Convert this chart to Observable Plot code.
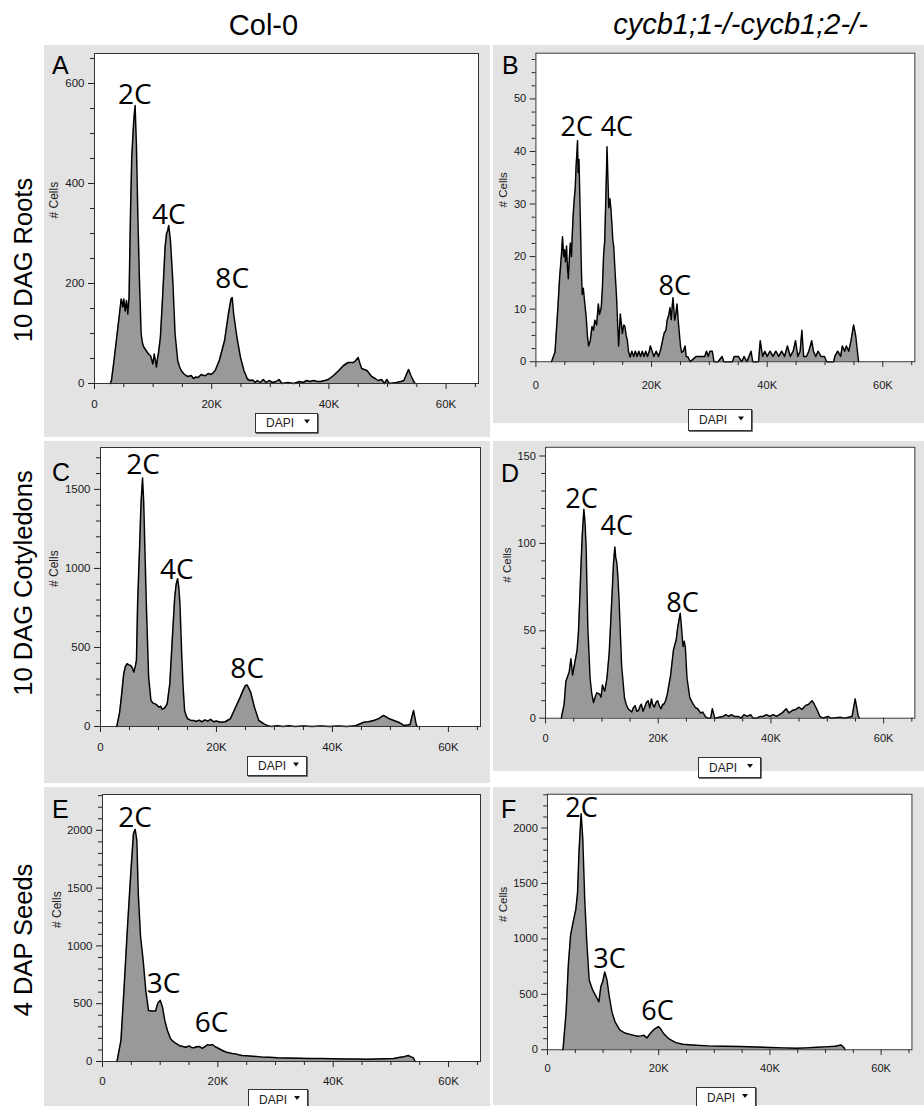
<!DOCTYPE html>
<html><head><meta charset="utf-8">
<script src="https://cdn.jsdelivr.net/npm/d3@7"></script>
<script src="https://cdn.jsdelivr.net/npm/@observablehq/plot@0.6"></script>
<style>
body{margin:0;background:#fff;}
#root{position:relative;width:924px;height:1106px;overflow:hidden;background:#fff;}
.panel{position:absolute;}
#overlay{position:absolute;left:0;top:0;z-index:5;pointer-events:none;}
</style></head><body><div id="root"></div>
<script>
// ---------- data (x in thousands of DAPI units, y = # cells) ----------
const xTickValues = [0, 20, 40, 60];
const xTickLabels = ["0", "20K", "40K", "60K"];
const xMinorTicks = [5, 10, 15, 25, 30, 35, 45, 50, 55, 65];

const columnTitles = ["Col-0", "cycb1;1-/-cycb1;2-/-"];
const rowTitles = ["10 DAG Roots", "10 DAG Cotyledons", "4 DAP Seeds"];
const panelLetters = ["A", "B", "C", "D", "E", "F"];

const rootsCol0 = [[2.7,0],[2.9,6],[3.4,53],[3.86,99],[4.26,139],[4.55,169],[4.83,153],[5.0,169],[5.23,145],[5.46,166],[5.68,139],[5.9,173],[6.14,339],[6.36,453],[6.7,526],[6.93,556],[7.16,473],[7.39,339],[7.67,206],[7.96,99],[8.2,80],[8.41,73],[8.7,68],[8.98,63],[9.3,58],[9.55,56],[9.75,48],[9.95,39],[10.2,59],[10.4,45],[10.57,33],[10.75,50],[10.9,59],[11.25,93],[11.65,179],[12.05,273],[12.3,300],[12.5,306],[12.67,316],[12.96,286],[13.36,206],[13.75,99],[14.2,46],[14.5,34],[14.8,26],[15.2,20],[15.6,16],[16.0,14],[16.5,16],[16.9,10],[17.3,13],[17.7,12],[18.2,18],[18.6,16],[19.0,16],[19.4,20],[19.9,18],[20.3,22],[20.6,26],[21.3,46],[22.2,86],[22.85,139],[23.3,169],[23.5,172],[23.75,139],[24.3,93],[24.9,53],[25.5,26],[26.1,9],[26.5,6],[27.0,7],[27.4,2],[27.8,6],[28.3,2],[28.8,8],[29.3,2],[29.8,6],[30.4,2],[31.0,4],[31.5,8],[32.0,0],[33.0,2],[34.0,0],[35.0,4],[35.6,2],[36.2,6],[36.8,4],[37.4,6],[38.0,4],[38.6,4],[39.3,6],[39.9,8],[40.8,16],[41.7,26],[42.5,36],[43.3,42],[44.2,42],[44.6,46],[45.0,52],[45.3,40],[45.6,30],[46.5,26],[47.3,14],[47.9,10],[48.4,6],[49.0,8],[49.5,0],[49.9,8],[50.3,0],[51.5,2],[52.3,4],[52.8,6],[53.3,20],[53.6,28],[54.0,16],[54.4,6],[54.7,0]];
const rootsCycb = [[2.7,0],[3.3,1.8],[3.8,10.3],[4.1,16],[4.4,20.1],[4.6,23.8],[4.8,20],[4.95,21.3],[5.1,19],[5.3,22],[5.45,18],[5.6,15.8],[5.8,20],[5.95,22.6],[6.15,20],[6.3,24.4],[6.45,28],[6.6,30.5],[6.8,33],[6.95,37.2],[7.1,40],[7.2,42.1],[7.3,36],[7.45,38.5],[7.6,31],[7.7,26.2],[7.85,18],[8.0,12.8],[8.2,14],[8.4,11.6],[8.55,10],[8.7,8.5],[8.9,5],[9.1,3.0],[9.4,4],[9.7,6.7],[9.95,6],[10.2,7.9],[10.5,7],[10.8,11],[11.0,9],[11.3,10.3],[11.5,14],[11.7,20.1],[11.9,23],[12.05,29.3],[12.2,36],[12.3,40.9],[12.45,35],[12.6,29.3],[12.8,31],[13.0,28.7],[13.15,26],[13.3,23.2],[13.45,22],[13.6,18.9],[13.8,15],[13.95,12.2],[14.1,8],[14.3,3.0],[14.45,6],[14.6,9.1],[14.8,7],[14.95,5.4],[15.2,7],[15.4,6.7],[15.6,5],[15.8,4.2],[16.0,2],[16.3,0.9],[16.6,2],[16.9,1],[17.2,2],[17.5,1],[17.8,2],[18.1,1],[18.4,2],[18.7,1],[19.0,2],[19.3,1],[19.6,2],[19.8,3],[20.1,2],[20.4,1],[20.8,2],[21.2,1],[21.6,2.4],[21.9,4],[22.2,5.5],[22.5,6],[22.7,7.9],[23.0,9],[23.2,10.3],[23.4,8],[23.7,12.2],[24.0,7.9],[24.2,9],[24.4,11],[24.6,8],[24.8,5.5],[25.0,3],[25.2,1.8],[25.5,2],[25.8,3],[26.0,1],[26.3,0.9],[26.7,0],[27.2,0.5],[27.7,1],[28.2,1],[28.7,1],[29.2,1],[29.5,2],[29.8,1],[30.1,2],[30.5,2],[30.8,0],[31.5,0],[32.2,1],[32.5,0],[34.0,0],[34.3,1],[35.0,1],[35.6,0],[36.0,1],[36.5,0],[37.2,2],[37.5,0],[38.5,0],[38.8,4],[39.2,1],[39.6,2],[40.0,1],[40.5,2],[41.0,1],[41.5,2],[42.0,1],[42.5,2],[43.0,1],[43.5,3],[44.0,1],[44.5,2],[44.9,4],[45.3,1],[45.7,2],[46.0,6],[46.3,1],[46.8,1],[47.2,2],[47.7,4],[48.0,2],[48.4,1],[48.8,2],[49.3,1],[49.9,1],[50.3,0],[51.5,0],[51.7,1],[52.2,2],[52.7,1],[53.0,3],[53.4,2],[53.7,3],[54.1,2],[54.5,4],[54.95,7],[55.3,5],[55.5,3],[55.8,0]];
const cotCol0 = [[2.8,0],[2.9,17],[3.3,90],[3.6,186],[4.0,334],[4.3,380],[4.6,397],[4.9,390],[5.2,386],[5.5,370],[5.75,344],[6.0,380],[6.2,418],[6.4,777],[6.8,1198],[7.0,1420],[7.25,1572],[7.45,1420],[7.6,1198],[7.9,777],[8.3,312],[8.7,165],[9.0,150],[9.2,146],[9.6,140],[10.1,122],[10.4,128],[10.6,110],[10.9,112],[11.2,125],[11.5,143],[11.95,270],[12.4,565],[12.8,818],[13.05,900],[13.3,935],[13.5,880],[13.7,777],[14.0,460],[14.25,250],[14.5,101],[14.8,65],[15.05,49],[15.5,40],[16.1,38],[16.5,32],[17.0,40],[17.5,30],[18.0,42],[18.5,34],[19.0,45],[19.5,30],[20.0,35],[20.7,27],[21.5,30],[22.4,49],[23.3,122],[24.1,186],[24.6,230],[25.0,260],[25.3,262],[25.9,217],[26.55,122],[27.3,38],[28.2,17],[28.8,5],[29.5,0],[30.5,4],[31.5,0],[32.5,4],[33.5,0],[35.0,3],[36.5,0],[38.0,3],[39.5,0],[41.0,3],[42.5,0],[44.0,5],[45.4,27],[46.2,30],[47.1,38],[48.0,50],[48.8,70],[49.3,60],[49.7,51],[50.6,38],[51.4,27],[52.0,15],[52.3,6],[53.0,10],[53.4,13],[53.7,60],[54.0,101],[54.3,40],[54.5,6],[54.7,0]];
const cotCycb = [[2.8,0],[2.9,1.7],[3.3,8],[3.6,21],[4.2,26.5],[4.5,34],[4.8,24.7],[5.2,32],[5.6,39],[5.85,50],[6.1,70.7],[6.3,88],[6.5,104],[6.8,119.5],[7.0,112],[7.2,98],[7.5,52],[7.9,23],[8.2,14],[8.5,9],[8.8,12],[9.1,14.5],[9.6,13.8],[9.85,12],[10.1,19],[10.3,17],[10.5,15.5],[10.7,19],[10.9,23],[11.3,37.6],[11.8,70.7],[12.05,88],[12.3,98],[12.45,92],[12.65,89],[12.85,80],[13.05,67],[13.5,30],[14.0,11.8],[14.3,8],[14.65,5.4],[15.3,3.5],[15.6,6],[15.9,7.2],[16.2,4],[16.5,4.4],[16.8,7],[17.0,8],[17.3,4],[17.6,6.3],[17.9,9],[18.2,10],[18.5,6],[18.8,11],[19.0,8],[19.3,6.3],[19.6,9],[19.9,10],[20.2,7],[20.5,5.4],[20.8,8],[21.0,8],[21.3,10],[21.6,13.6],[22.2,24.7],[22.7,39],[23.2,45],[23.45,52],[23.9,60],[24.05,55],[24.2,48.6],[24.4,41],[24.6,44],[24.8,41],[25.1,23],[25.6,11.8],[26.2,8],[26.6,6],[27.0,5.4],[27.5,3],[27.9,3.5],[28.4,0.7],[28.8,0],[29.3,0],[29.6,5.4],[29.8,3],[30.0,0],[30.8,0.5],[31.5,1],[32.0,2],[32.5,1],[33.0,2],[33.5,1],[34.2,1],[34.7,0],[35.2,2],[35.8,1],[36.4,2],[36.8,0],[37.5,0],[38.1,1],[38.6,1],[39.2,2],[39.8,1],[40.4,2],[41.0,1],[41.5,2],[42.0,3],[42.7,5.4],[43.2,3],[43.8,4.4],[44.4,5],[45.0,6.3],[45.5,5],[46.1,7.2],[46.7,8],[47.3,10],[47.7,8],[48.1,5.4],[48.7,1],[49.2,0],[50.1,1],[50.6,0],[52.4,0.5],[53.0,0],[54.4,1],[54.95,11],[55.5,1],[55.7,0]];
const seedsCol0 = [[2.5,0],[2.6,23],[3.2,182],[3.75,644],[4.3,1135],[4.9,1627],[5.37,1973],[5.66,2008],[5.95,1915],[6.2,1453],[6.6,1077],[7.05,875],[7.5,615],[7.97,442],[8.5,436],[9.2,436],[9.6,505],[10.0,529],[10.4,471],[10.8,355],[11.25,268],[11.8,197],[12.4,167],[13.3,139],[14.4,124],[14.8,130],[15.0,136],[15.4,122],[15.9,119],[16.3,128],[16.75,130],[17.3,113],[17.8,130],[18.2,145],[18.6,140],[19.05,147],[19.5,130],[19.9,119],[20.8,95],[21.4,82],[21.9,75],[22.5,70],[23.1,66],[23.6,58],[24.2,52],[25.0,50],[26.0,46],[27.5,40],[28.9,37],[30.3,32],[32.0,30],[34.0,28],[36.0,27],[38.0,25],[40.0,23],[42.0,22],[44.0,21],[45.8,20],[47.5,22],[49.0,24],[50.5,26],[51.6,37],[52.3,42],[53.0,52],[53.5,40],[53.9,32],[54.2,0]];
const seedsCycb = [[2.7,0],[2.8,6],[3.35,339],[3.76,774],[4.16,1035],[4.6,1150],[5.1,1267],[5.4,1411],[5.67,1789],[6.05,2130],[6.35,1904],[6.7,1354],[7.06,977],[7.5,629],[8.1,542],[8.7,484],[9.25,432],[9.6,571],[9.94,615],[10.3,702],[10.7,629],[11.1,484],[11.6,339],[12.15,252],[13.0,180],[13.9,151],[14.4,145],[15.0,136],[15.6,130],[16.2,122],[16.8,125],[17.35,130],[17.9,107],[18.4,142],[19.1,180],[19.5,195],[19.95,209],[20.4,185],[20.8,151],[21.4,120],[22.0,93],[23.1,64],[24.3,49],[26.0,43],[28.9,35],[31.5,32],[34.7,29],[37.5,25],[40.1,20],[42.5,17],[44.7,14],[46.5,17],[48.5,22],[49.9,26],[51.7,32],[52.8,43],[53.1,30],[53.4,14],[53.5,0]];

// peak annotations: label anchor (x in K, y in cells)
const rootsCol0Peaks = [{x:6.9, y:560, text:"2C"}, {x:12.7, y:320, text:"4C"}, {x:23.5, y:192, text:"8C"}];
const rootsCycbPeaks = [{x:7.05, y:42.9, text:"2C"}, {x:14.0, y:42.9, text:"4C"}, {x:24.0, y:12.66, text:"8C"}];
const cotCol0Peaks = [{x:7.36, y:1600, text:"2C"}, {x:13.15, y:935, text:"4C"}, {x:25.3, y:308, text:"8C"}];
const cotCycbPeaks = [{x:6.38, y:120, text:"2C"}, {x:12.65, y:104.8, text:"4C"}, {x:24.3, y:61, text:"8C"}];
const seedsCol0Peaks = [{x:5.66, y:2025, text:"2C"}, {x:10.6, y:592, text:"3C"}, {x:18.9, y:254, text:"6C"}];
const seedsCycbPeaks = [{x:6.13, y:2098, text:"2C"}, {x:11.16, y:739, text:"3C"}, {x:19.8, y:267, text:"6C"}];

const yMajorA = [0, 200, 400, 600];
const yMajorB = [0, 10, 20, 30, 40, 50];
const yMajorC = [0, 500, 1000, 1500];
const yMajorD = [0, 50, 100, 150];
const yMajorE = [0, 500, 1000, 1500, 2000];
const yMajorF = [0, 500, 1000, 1500, 2000];
const yMax = [660, 58.7, 1765, 155, 2310, 2305];
const yMinorStep = [50, 2.5, 100, 10, 100, 100];

// ---------- layout ----------
const layout = [
  {left:44,  top:45,  w:446, h:392, mL:50, mT:8, mR:12, mB:54, xPad:10, cells:40, dapi:[255,413,62,19], letter:[52,74]},
  {left:493, top:45,  w:447, h:392, mL:44, mT:8, mR:10, mB:64, xPad:14, cells:34, dapi:[688,409,63,21], letter:[502,74]},
  {left:44,  top:441, w:446, h:342, mL:56, mT:6, mR:10, mB:57, xPad:10, cells:46, dapi:[247,756,59,19], letter:[52,481]},
  {left:493, top:441, w:447, h:342, mL:54, mT:6, mR:10, mB:55, xPad:10, cells:40, dapi:[698,757,62,20], letter:[501,482]},
  {left:44,  top:787, w:446, h:330, mL:58, mT:7, mR:10, mB:56, xPad:9,  cells:45, dapi:[248,1089,59,20], letter:[52,818]},
  {left:493, top:787, w:447, h:330, mL:56, mT:7, mR:13, mB:58, xPad:9,  cells:46, dapi:[696,1087,59,20], letter:[501,818]}
];
const series = [rootsCol0, rootsCycb, cotCol0, cotCycb, seedsCol0, seedsCycb];
const peaks = [rootsCol0Peaks, rootsCycbPeaks, cotCol0Peaks, cotCycbPeaks, seedsCol0Peaks, seedsCycbPeaks];
const yMajors = [yMajorA, yMajorB, yMajorC, yMajorD, yMajorE, yMajorF];

const root = document.getElementById("root");
const tickFont = "'Liberation Sans', Arial, sans-serif";

series.forEach((s, i) => {
  const L = layout[i];
  const data = s.map(([x, y]) => ({x, y}));
  const minor = d3.range(yMinorStep[i], yMax[i], yMinorStep[i]).filter(v => !yMajors[i].includes(v));
  const chart = Plot.plot({
    width: L.w, height: L.h,
    marginLeft: L.mL, marginTop: L.mT, marginRight: L.mR, marginBottom: L.mB,
    style: {background: "#e3e3e3", fontFamily: tickFont, fontSize: "11.5px", color: "#1a1a1a", overflow: "visible"},
    x: {domain: [0, 65.536], axis: null, label: null},
    y: {domain: [0, yMax[i]], axis: null, label: null},
    marks: [
      Plot.frame({fill: "white", stroke: null}),
      Plot.areaY(data, {x: "x", y: "y", fill: "#999999", curve: "linear"}),
      Plot.lineY(data, {x: "x", y: "y", stroke: "#000", strokeWidth: 1.5, curve: "linear"}),
      Plot.frame({stroke: "#333", strokeWidth: 1}),
      Plot.axisX({ticks: xTickValues, tickFormat: d => xTickLabels[xTickValues.indexOf(d)], tickSize: 6, tickPadding: L.xPad, label: null, stroke: "#222"}),
      Plot.axisX({ticks: xMinorTicks, tickFormat: () => "", tickSize: 4, label: null, stroke: "#222"}),
      Plot.axisY({ticks: yMajors[i], tickFormat: d => String(d), tickSize: 6, tickPadding: 4, label: null, stroke: "#222"}),
      Plot.axisY({ticks: minor, tickFormat: () => "", tickSize: 4, label: null, stroke: "#222"}),
      Plot.text(["# Cells"], {text: d => d, frameAnchor: "left", dx: -L.cells, rotate: -90, fontSize: 12, fill: "#222"}),
      Plot.text(peaks[i], {x: "x", y: "y", text: "text", lineAnchor: "bottom", textAnchor: "middle", fontFamily: "'Open Sans', sans-serif", fontSize: 28, fill: "#000"})
    ]
  });
  const div = document.createElement("div");
  div.className = "panel";
  div.style.left = L.left + "px";
  div.style.top = L.top + "px";
  div.appendChild(chart);
  root.appendChild(div);
});

// ---------- overlay text (titles, row labels, letters, DAPI buttons) ----------
const svg = d3.select(root).append("svg").attr("id", "overlay").attr("width", 924).attr("height", 1106)
  .style("font-family", "'Liberation Sans', Arial, sans-serif");

svg.append("text").attr("x", 263.5).attr("y", 35).attr("text-anchor", "middle").attr("font-size", 29).text(columnTitles[0]);
svg.append("text").attr("x", 740.5).attr("y", 34).attr("text-anchor", "middle").attr("font-size", 29).attr("font-style", "italic").text(columnTitles[1]);

const rowCenters = [260, 583, 940];
rowTitles.forEach((t, i) => {
  svg.append("text").attr("transform", `translate(32,${rowCenters[i]}) rotate(-90)`)
    .attr("text-anchor", "middle").attr("font-size", 25.5).text(t);
});

layout.forEach((L, i) => {
  svg.append("text").attr("x", L.letter[0]).attr("y", L.letter[1]).attr("font-size", 25).text(panelLetters[i]);
  const [x, y, w, h] = L.dapi;
  const g = svg.append("g");
  g.append("path").attr("d", `M${x + w + 1},${y + 1}V${y + h + 1}H${x + 1}`).attr("fill", "none").attr("stroke", "#444").attr("stroke-width", 1.5);
  g.append("rect").attr("x", x + 0.5).attr("y", y + 0.5).attr("width", w).attr("height", h).attr("fill", "#fff").attr("stroke", "#333");
  g.append("text").attr("x", x + 11).attr("y", y + h / 2 + 4.5).attr("font-size", 12).attr("fill", "#222").text("DAPI");
  const tx = x + w - 13, ty = y + h / 2 - 3;
  g.append("path").attr("d", `M${tx},${ty}h6l-3,4z`).attr("fill", "#111");
});
</script></body></html>
